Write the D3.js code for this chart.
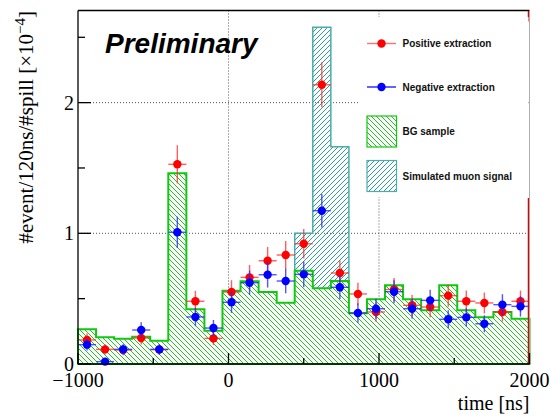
<!DOCTYPE html>
<html>
<head>
<meta charset="utf-8">
<script src="https://cdn.jsdelivr.net/npm/d3@7"></script>
<style>
  body { margin: 0; background: #fff; }
</style>
</head>
<body>
<div id="chart"></div>
<script>
// bin lower edges (120 ns bins), values in units of 1e-4
const binLow = [-1000, -880, -760, -640, -520, -400, -280, -160, -40, 80, 200, 320, 440,
                560, 680, 800, 920, 1040, 1160, 1280, 1400, 1520, 1640, 1760, 1880];
const binWidth = 120;

const bgSample = [0.265, 0.204, 0.194, 0.209, 0.178, 1.459, 0.418, 0.255, 0.561, 0.633, 0.551, 0.469, 0.714,
                  0.579, 0.635, 0.388, 0.495, 0.602, 0.495, 0.411, 0.602, 0.411, 0.357, 0.398, 0.347];
// stacked total (BG + simulated muon signal)
const stackTotal = [0.265, 0.204, 0.194, 0.209, 0.178, 1.459, 0.418, 0.255, 0.561, 0.633, 0.551, 0.469, 1.0,
                    2.576, 1.663, 0.388, 0.495, 0.602, 0.495, 0.411, 0.602, 0.411, 0.357, 0.398, 0.347];

const posVal = [0.184, 0.112, 0.107, 0.199, 0.110, 1.528, 0.480, 0.196, 0.551, 0.663, 0.790, 0.834, 0.920,
                2.137, 0.696, 0.536, 0.398, 0.570, 0.449, 0.436, 0.523, 0.480, 0.467, 0.398, 0.480];
const posErr = [0.05, 0.04, 0.04, 0.05, 0.04, 0.146, 0.08, 0.05, 0.09, 0.095, 0.105, 0.108, 0.113,
                0.172, 0.098, 0.086, 0.074, 0.089, 0.079, 0.078, 0.085, 0.082, 0.08, 0.074, 0.082];
const negVal = [0.148, 0.018, 0.112, 0.260, 0.112, 1.008, 0.360, 0.275, 0.472, 0.622, 0.683, 0.635, 0.686,
                1.173, 0.587, 0.390, 0.423, 0.553, 0.423, 0.487, 0.342, 0.357, 0.308, 0.454, 0.441];
const negErr = [0.045, 0.016, 0.04, 0.06, 0.04, 0.12, 0.071, 0.062, 0.081, 0.093, 0.098, 0.094, 0.098,
                0.128, 0.09, 0.074, 0.077, 0.088, 0.077, 0.082, 0.069, 0.07, 0.065, 0.08, 0.078];

// clipped positive-extraction bar at the right edge
const edgeRed = [[0, 1.27], [2.62, 2.72]];

const xMajor = [-1000, 0, 1000, 2000];
const xMinor = [-500, 500, 1500];
const yMajor = [0, 1, 2];
const yMinor = [0.5, 1.5, 2.5];

const legendItems = [
  {label: "Positive extraction", kind: "pos"},
  {label: "Negative extraction", kind: "neg"},
  {label: "BG sample", kind: "bg"},
  {label: "Simulated muon signal", kind: "sig"}
];

const W = 554, H = 416;
const margin = {top: 10.5, right: 24.5, bottom: 52, left: 78};

const x = d3.scaleLinear().domain([-1000, 2000]).range([margin.left, W - margin.right]);
const y = d3.scaleLinear().domain([0, 2.705]).range([H - margin.bottom, margin.top]);

const svg = d3.select("#chart").append("svg")
    .attr("width", W).attr("height", H);

const defs = svg.append("defs");
// green "\\\" hatch
const pg = defs.append("pattern").attr("id", "hatchBG")
    .attr("patternUnits", "userSpaceOnUse").attr("width", 5).attr("height", 5);
pg.append("rect").attr("width", 5).attr("height", 5).attr("fill", "#fff");
pg.append("path").attr("d", "M0,0L5,5M-1,4L1,6M4,-1L6,1")
    .attr("stroke", "#1fc41f").attr("stroke-width", 1);
// teal "///" hatch
const ps = defs.append("pattern").attr("id", "hatchSig")
    .attr("patternUnits", "userSpaceOnUse").attr("width", 5).attr("height", 5);
ps.append("path").attr("d", "M0,5L5,0M-1,1L1,-1M4,6L6,4")
    .attr("stroke", "#2f9c9c").attr("stroke-width", 1);

defs.append("clipPath").attr("id", "plotClip").append("rect")
    .attr("x", x(-1000)).attr("y", y(2.705))
    .attr("width", x(2000) - x(-1000)).attr("height", y(0) - y(2.705));

// grid
const grid = svg.append("g").attr("stroke", "#555").attr("stroke-width", 1)
    .attr("stroke-dasharray", "1,2");
[0, 1000].forEach(v => grid.append("line")
    .attr("x1", x(v)).attr("x2", x(v)).attr("y1", y(2.705)).attr("y2", y(0)));
[1, 2].forEach(v => grid.append("line")
    .attr("x1", x(-1000)).attr("x2", x(2000)).attr("y1", y(v)).attr("y2", y(v)));

// step path helper
function stepPath(vals) {
  let p = "M" + x(binLow[0]) + "," + y(0);
  vals.forEach((v, i) => {
    p += "L" + x(binLow[i]) + "," + y(v) + "L" + x(binLow[i] + binWidth) + "," + y(v);
  });
  p += "L" + x(binLow[binLow.length - 1] + binWidth) + "," + y(0) + "Z";
  return p;
}

// simulated muon signal on top of BG
const sigIdx = d3.range(binLow.length).filter(i => stackTotal[i] > bgSample[i] + 1e-6);
const sigG = svg.append("g");
sigG.selectAll("rect").data(sigIdx).enter().append("rect")
    .attr("x", i => x(binLow[i]))
    .attr("width", i => x(binLow[i] + binWidth) - x(binLow[i]))
    .attr("y", i => y(stackTotal[i]))
    .attr("height", i => y(bgSample[i]) - y(stackTotal[i]))
    .attr("fill", "url(#hatchSig)");
// signal outline
(function () {
  const i0 = sigIdx[0], i1 = sigIdx[sigIdx.length - 1];
  let p = "M" + x(binLow[i0]) + "," + y(bgSample[i0]);
  sigIdx.forEach(i => {
    p += "L" + x(binLow[i]) + "," + y(stackTotal[i]) + "L" + x(binLow[i] + binWidth) + "," + y(stackTotal[i]);
  });
  p += "L" + x(binLow[i1] + binWidth) + "," + y(bgSample[i1]);
  sigG.append("path").attr("d", p).attr("fill", "none")
      .attr("stroke", "#4aacac").attr("stroke-width", 1.5);
})();

// BG sample histogram
svg.append("path").attr("d", stepPath(bgSample))
    .attr("fill", "url(#hatchBG)").attr("stroke", "#10c810").attr("stroke-width", 2);

// data points
function drawPoints(vals, errs, barColor, dotColor) {
  const g = svg.append("g");
  vals.forEach((v, i) => {
    const cx = x(binLow[i] + binWidth / 2);
    g.append("line").attr("x1", x(binLow[i])).attr("x2", x(binLow[i] + binWidth))
        .attr("y1", y(v)).attr("y2", y(v))
        .attr("stroke", barColor).attr("stroke-width", 1.4);
    g.append("line").attr("x1", cx).attr("x2", cx)
        .attr("y1", y(v - errs[i])).attr("y2", y(v + errs[i]))
        .attr("stroke", barColor).attr("stroke-width", 1.4);
    g.append("circle").attr("cx", cx).attr("cy", y(v)).attr("r", 4.2).attr("fill", dotColor);
  });
}
drawPoints(posVal, posErr, "rgba(255,40,40,0.75)", "#ff0000");
drawPoints(negVal, negErr, "rgba(40,40,255,0.8)", "#0000ff");

svg.append("g").attr("clip-path", "url(#plotClip)").selectAll("line").data(edgeRed).enter()
    .append("line")
    .attr("x1", x(2000) - 1).attr("x2", x(2000) - 1)
    .attr("y1", d => y(d[0])).attr("y2", d => y(d[1]))
    .attr("stroke", "#e00000").attr("stroke-width", 1.5);

// legend
const leg = svg.append("g");
leg.append("rect").attr("x", 360).attr("y", 17).attr("width", x(2000) - 361).attr("height", 180)
    .attr("fill", "#fff");
const legY = [43.5, 87, 131.5, 176];
legendItems.forEach((d, k) => {
  const cy = legY[k];
  if (d.kind === "pos" || d.kind === "neg") {
    const c = d.kind === "pos" ? "#ff7070" : "#2020ff";
    leg.append("line").attr("x1", 367).attr("x2", 396).attr("y1", cy).attr("y2", cy)
        .attr("stroke", c).attr("stroke-width", 1.4);
    leg.append("circle").attr("cx", 381.5).attr("cy", cy).attr("r", 4.2)
        .attr("fill", d.kind === "pos" ? "#ff0000" : "#0000ff");
  } else {
    leg.append("rect").attr("x", 367).attr("y", cy - 15.5).attr("width", 29.5).attr("height", 31)
        .attr("fill", d.kind === "bg" ? "url(#hatchBG)" : "url(#hatchSig)")
        .attr("stroke", d.kind === "bg" ? "#10c810" : "#4aacac").attr("stroke-width", 1.2);
  }
  leg.append("text").attr("x", 402.5).attr("y", cy).attr("dy", "0.35em")
      .attr("font-family", "Liberation Sans, Arial, sans-serif").attr("font-weight", "bold")
      .attr("font-size", 10).attr("fill", "#111").text(d.label);
});

// frame
const fr = svg.append("g");
fr.append("line").attr("x1", x(-1000)).attr("x2", x(-1000)).attr("y1", y(2.705)).attr("y2", y(0))
    .attr("stroke", "#000").attr("stroke-width", 1.3);
fr.append("line").attr("x1", x(-1000)).attr("x2", x(2000)).attr("y1", y(0)).attr("y2", y(0))
    .attr("stroke", "#000").attr("stroke-width", 1.3);
fr.append("line").attr("x1", x(-1000)).attr("x2", x(2000)).attr("y1", y(2.705)).attr("y2", y(2.705))
    .attr("stroke", "#000").attr("stroke-width", 1.3);
fr.append("line").attr("x1", x(2000)).attr("x2", x(2000)).attr("y1", y(2.705)).attr("y2", y(0))
    .attr("stroke", "#999").attr("stroke-width", 0.8);

// ticks
const tk = svg.append("g").attr("stroke", "#000").attr("stroke-width", 1.3);
xMajor.forEach(v => tk.append("line").attr("x1", x(v)).attr("x2", x(v))
    .attr("y1", y(0)).attr("y2", y(0) - 11));
xMinor.forEach(v => tk.append("line").attr("x1", x(v)).attr("x2", x(v))
    .attr("y1", y(0)).attr("y2", y(0) - 6));
yMajor.forEach(v => tk.append("line").attr("x1", x(-1000)).attr("x2", x(-1000) + 13)
    .attr("y1", y(v)).attr("y2", y(v)));
yMinor.forEach(v => tk.append("line").attr("x1", x(-1000)).attr("x2", x(-1000) + 7)
    .attr("y1", y(v)).attr("y2", y(v)));

// tick labels
const serif = "Liberation Serif, Times New Roman, serif";
svg.append("g").selectAll("text").data(xMajor).enter().append("text")
    .attr("x", d => x(d)).attr("y", 387)
    .attr("text-anchor", "middle").attr("font-family", serif).attr("font-size", 20)
    .text(d => d < 0 ? "\u2212" + Math.abs(d) : d);
svg.append("g").selectAll("text").data(yMajor).enter().append("text")
    .attr("x", 74).attr("y", d => y(d)).attr("dy", "0.35em")
    .attr("text-anchor", "end").attr("font-family", serif).attr("font-size", 20)
    .text(d => d);

// axis titles
svg.append("text").attr("x", x(2000)).attr("y", 410)
    .attr("text-anchor", "end").attr("font-family", serif).attr("font-size", 20)
    .text("time [ns]");
const yt = svg.append("text")
    .attr("transform", "translate(33,11) rotate(-90)")
    .attr("text-anchor", "end").attr("font-family", serif).attr("font-size", 21);
yt.append("tspan").text("#event/120ns/#spill [\u00d710");
yt.append("tspan").attr("font-size", 15).attr("dy", -8).text("\u22124");
yt.append("tspan").attr("dy", 8).text("]");

// Preliminary
svg.append("text").attr("x", 105).attr("y", 53)
    .attr("font-family", "Liberation Sans, Arial, sans-serif").attr("font-weight", "bold")
    .attr("font-style", "italic").attr("font-size", 28).attr("fill", "#000")
    .text("Preliminary");
</script>
</body>
</html>
